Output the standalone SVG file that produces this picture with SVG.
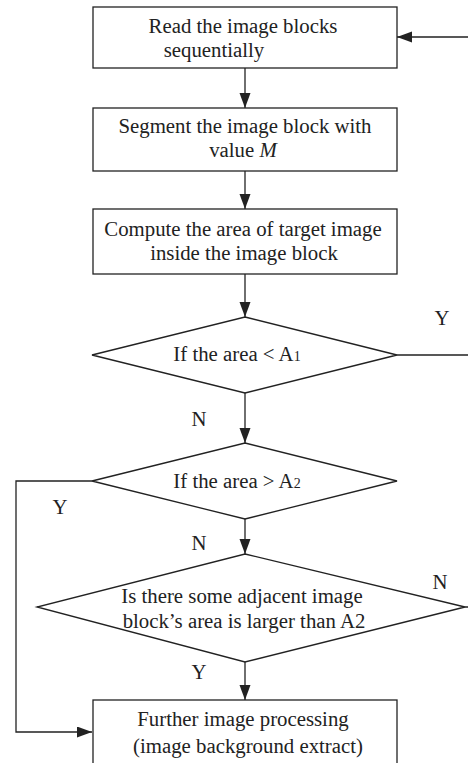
<svg xmlns="http://www.w3.org/2000/svg" width="468" height="763" viewBox="0 0 468 763">
<style>
.shape{fill:#fff;stroke:#222;stroke-width:1.3}
.conn{fill:none;stroke:#222;stroke-width:1.3}
text{font-family:"Liberation Serif","Times New Roman",serif;font-size:20.8px;fill:#222;text-anchor:middle}
.sub{font-size:14px}
</style>
<defs>
<marker id="ah" markerUnits="userSpaceOnUse" markerWidth="16" markerHeight="12" refX="15" refY="5.5" orient="auto">
<path d="M0,0 L15,5.5 L0,11 Z" fill="#222"/>
</marker>
</defs>
<rect width="468" height="763" fill="#fff"/>
<g id="connectors">
<path class="conn" d="M245,68 V108" marker-end="url(#ah)"/>
<path class="conn" d="M245,171 V209" marker-end="url(#ah)"/>
<path class="conn" d="M245,274 V317" marker-end="url(#ah)"/>
<path class="conn" d="M245,393 V443" marker-end="url(#ah)"/>
<path class="conn" d="M245,519 V554" marker-end="url(#ah)"/>
<path class="conn" d="M245,662 V700" marker-end="url(#ah)"/>
<path class="conn" d="M397,355 H470 V37 H397" marker-end="url(#ah)"/>
<path class="conn" d="M465,607 H470 V355"/>
<path class="conn" d="M92,481 H16 V732 H92" marker-end="url(#ah)"/>
<text x="442" y="325">Y</text>
<text x="199" y="426">N</text>
<text x="60" y="514">Y</text>
<text x="199" y="550">N</text>
<text x="440" y="589">N</text>
<text x="199" y="679">Y</text>
</g>
<g id="read">
<rect class="shape" x="93" y="7" width="304" height="61"/>
<text x="243" y="32.5">Read the image blocks</text>
<text x="214" y="56.5">sequentially</text>
</g>
<g id="segment">
<rect class="shape" x="93" y="108" width="304" height="63"/>
<text x="245" y="133">Segment the image block with</text>
<text x="243" y="157">value <tspan font-style="italic">M</tspan></text>
</g>
<g id="compute">
<rect class="shape" x="93" y="209" width="304" height="65"/>
<text x="243" y="236">Compute the area of target image</text>
<text x="244" y="260">inside the image block</text>
</g>
<g id="dec1">
<polygon class="shape" points="245,317 397,355 245,393 92,355"/>
<text x="237" y="361">If the area &lt; A<tspan class="sub">1</tspan></text>
</g>
<g id="dec2">
<polygon class="shape" points="245,443 397,481 245,519 92,481"/>
<text x="237" y="488">If the area &gt; A<tspan class="sub">2</tspan></text>
</g>
<g id="dec3">
<polygon class="shape" points="245,554 465,607 245,662 37,607"/>
<text x="242" y="603">Is there some adjacent image</text>
<text x="244" y="628">block’s area is larger than A2</text>
</g>
<g id="further">
<rect class="shape" x="93" y="700" width="304" height="80"/>
<text x="243" y="726">Further image processing</text>
<text x="248" y="753">(image background extract)</text>
</g>
</svg>
